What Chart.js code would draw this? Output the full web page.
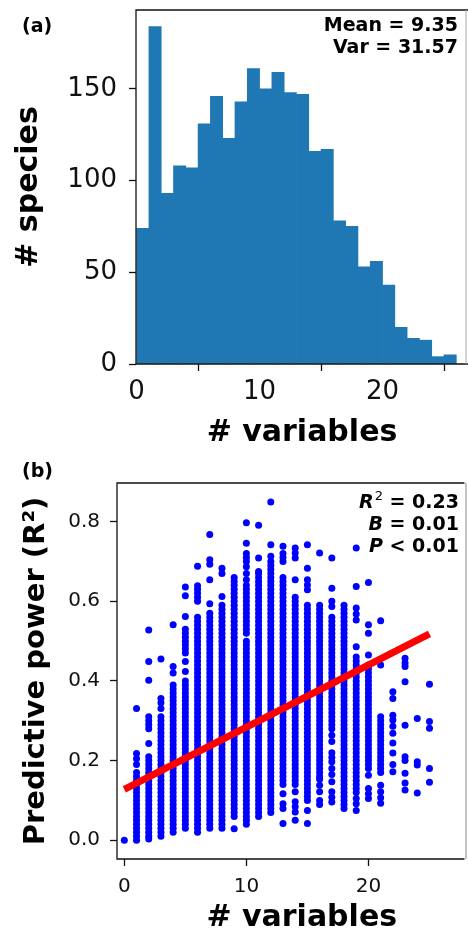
<!DOCTYPE html>
<html>
<head>
<meta charset="utf-8">
<script src="https://cdn.jsdelivr.net/npm/chart.js@4.4.1/dist/chart.umd.min.js"></script>
<style>
  html, body { margin: 0; padding: 0; background: #fff; width: 468px; height: 936px; overflow: hidden; }
  #wrap { position: relative; width: 468px; height: 936px; font-family: 'DejaVu Sans', sans-serif; color: #000; }
  canvas { position: absolute; left: 0; }
  #ca { top: 0; }
  #cb { top: 450px; }
  .txt { position: absolute; font-weight: bold; white-space: nowrap; }
  .ann { text-align: right; font-size: 19px; }
  .ann i { font-style: italic; }
  .ann sup { font-size: 13px; font-weight: normal; line-height: 0; vertical-align: baseline; position: relative; top: -8px; margin-left: 1px; }
</style>
</head>
<body>
<div id="wrap">
  <canvas id="ca" width="468" height="451" style="width:468px;height:451px"></canvas>
  <canvas id="cb" width="468" height="486" style="width:468px;height:486px"></canvas>
  <div class="txt" style="left:22px;top:14px;font-size:19px;line-height:22px;">(a)</div>
  <div class="txt ann" style="right:10px;top:14px;line-height:21.5px;">Mean = 9.35<br>Var = 31.57</div>
  <div class="txt" style="left:22px;top:459px;font-size:19px;line-height:22px;">(b)</div>
  <div class="txt ann" style="right:9px;top:490px;line-height:22px;"><i>R</i><sup>2</sup> = 0.23<br><i>B</i> = 0.01<br><i>P</i> &lt; 0.01</div>
</div>
<script>
// ---------- Panel (a): histogram ----------
const binStart = [0,1,2,3,4,5,6,7,8,9,10,11,12,13,14,15,16,17,18,19,20,21,22,23,24,25];
const speciesCount = [74,184,93,108,107,131,146,123,143,161,150,159,148,147,116,117,78,75,53,56,43,20,14,13,4,5];
const xTicksA = [0,10,20];
const yTicksA = [0,50,100,150];

// ---------- Panel (b): predictive power (R^2) of each species' model, by number of variables ----------
const nVariables = [0,1,2,3,4,5,6,7,8,9,10,11,12,13,14,15,16,17,18,19,20,21,22,23,24,25];
const p0 = [0.0];
const p1 = [0.331,0.218,0.205,0.19,0.17,0.16,0.15,0.14,0.13,0.12,0.11,0.1,0.09,0.08,0.07,0.06,0.05,0.04,0.03,0.02,0.01,0.0];
const p2 = [0.528,0.449,0.402,0.31,0.3,0.29,0.28,0.243,0.21,0.2,0.19,0.18,0.17,0.16,0.15,0.14,0.13,0.12,0.11,0.1,0.09,0.08,0.07,0.06,0.05,0.04,0.03,0.02,0.01,0.003];
const p3 = [0.455,0.356,0.345,0.331,0.31,0.3,0.29,0.28,0.27,0.26,0.25,0.24,0.23,0.22,0.21,0.2,0.19,0.18,0.17,0.16,0.15,0.14,0.13,0.12,0.11,0.1,0.09,0.08,0.07,0.06,0.05,0.04,0.03,0.02,0.01];
const p4 = [0.541,0.436,0.42,0.39,0.38,0.37,0.36,0.35,0.34,0.33,0.32,0.31,0.3,0.29,0.28,0.27,0.26,0.25,0.24,0.23,0.22,0.21,0.2,0.19,0.18,0.17,0.16,0.15,0.14,0.13,0.12,0.11,0.1,0.09,0.08,0.07,0.06,0.05,0.04,0.03,0.02];
const p5 = [0.636,0.614,0.562,0.53,0.52,0.51,0.5,0.49,0.48,0.47,0.449,0.424,0.4,0.39,0.38,0.37,0.36,0.35,0.34,0.33,0.32,0.31,0.3,0.29,0.28,0.27,0.26,0.25,0.24,0.23,0.22,0.21,0.2,0.19,0.18,0.17,0.16,0.15,0.14,0.13,0.12,0.11,0.1,0.09,0.08,0.07,0.06,0.05,0.04,0.03];
const p6 = [0.688,0.639,0.63,0.62,0.61,0.6,0.56,0.55,0.54,0.53,0.52,0.51,0.5,0.49,0.48,0.47,0.46,0.45,0.44,0.43,0.42,0.41,0.4,0.39,0.38,0.37,0.36,0.35,0.34,0.33,0.32,0.31,0.3,0.29,0.28,0.27,0.26,0.25,0.24,0.23,0.22,0.21,0.2,0.19,0.18,0.17,0.16,0.15,0.14,0.13,0.12,0.11,0.1,0.09,0.08,0.07,0.06,0.05,0.04,0.03,0.02];
const p7 = [0.768,0.704,0.693,0.654,0.594,0.57,0.56,0.55,0.54,0.53,0.52,0.51,0.5,0.49,0.48,0.47,0.46,0.45,0.44,0.43,0.42,0.41,0.4,0.39,0.38,0.37,0.36,0.35,0.34,0.33,0.32,0.31,0.3,0.29,0.28,0.27,0.26,0.25,0.24,0.23,0.22,0.21,0.2,0.19,0.18,0.17,0.16,0.15,0.14,0.13,0.12,0.11,0.1,0.09,0.08,0.07,0.06,0.05,0.04,0.03];
const p8 = [0.683,0.67,0.612,0.59,0.58,0.57,0.56,0.55,0.54,0.53,0.52,0.51,0.5,0.49,0.48,0.47,0.46,0.45,0.44,0.43,0.42,0.41,0.4,0.39,0.38,0.37,0.36,0.35,0.34,0.33,0.32,0.31,0.3,0.29,0.28,0.27,0.26,0.25,0.24,0.23,0.22,0.21,0.2,0.19,0.18,0.17,0.16,0.15,0.14,0.13,0.12,0.11,0.1,0.09,0.08,0.07,0.06,0.05,0.04,0.03];
const p9 = [0.66,0.65,0.64,0.63,0.62,0.61,0.6,0.59,0.58,0.57,0.56,0.55,0.54,0.53,0.52,0.51,0.5,0.49,0.48,0.47,0.46,0.45,0.44,0.43,0.42,0.41,0.4,0.39,0.38,0.37,0.36,0.35,0.34,0.33,0.32,0.31,0.3,0.29,0.28,0.27,0.26,0.25,0.24,0.23,0.22,0.21,0.2,0.19,0.18,0.17,0.16,0.15,0.14,0.13,0.12,0.11,0.1,0.09,0.08,0.07,0.06,0.029];
const p10 = [0.797,0.746,0.72,0.71,0.7,0.687,0.67,0.654,0.64,0.63,0.62,0.61,0.6,0.59,0.58,0.57,0.56,0.55,0.54,0.53,0.52,0.5,0.49,0.48,0.47,0.46,0.45,0.44,0.43,0.42,0.41,0.4,0.39,0.38,0.37,0.36,0.35,0.34,0.33,0.32,0.31,0.3,0.29,0.28,0.27,0.26,0.25,0.24,0.23,0.22,0.21,0.2,0.19,0.18,0.17,0.16,0.15,0.14,0.13,0.12,0.11,0.1,0.09,0.08,0.07,0.06,0.05,0.04];
const p11 = [0.791,0.709,0.675,0.67,0.66,0.65,0.64,0.63,0.62,0.61,0.6,0.59,0.58,0.57,0.56,0.55,0.54,0.53,0.52,0.51,0.5,0.49,0.48,0.47,0.46,0.45,0.44,0.43,0.42,0.41,0.4,0.39,0.38,0.37,0.36,0.35,0.34,0.33,0.32,0.31,0.3,0.29,0.28,0.27,0.26,0.25,0.24,0.23,0.22,0.21,0.2,0.19,0.18,0.17,0.16,0.15,0.14,0.13,0.12,0.11,0.1,0.09,0.08,0.07,0.06];
const p12 = [0.849,0.742,0.713,0.7,0.69,0.68,0.67,0.66,0.65,0.64,0.63,0.62,0.61,0.6,0.59,0.58,0.57,0.56,0.55,0.54,0.53,0.52,0.51,0.5,0.49,0.48,0.47,0.46,0.45,0.44,0.43,0.42,0.41,0.4,0.39,0.38,0.37,0.36,0.35,0.34,0.33,0.32,0.31,0.3,0.29,0.28,0.27,0.26,0.25,0.24,0.23,0.22,0.21,0.2,0.19,0.18,0.17,0.16,0.15,0.14,0.13,0.12,0.11,0.1,0.09,0.08,0.07];
const p13 = [0.738,0.72,0.71,0.7,0.66,0.65,0.64,0.63,0.62,0.61,0.6,0.59,0.58,0.57,0.56,0.55,0.54,0.53,0.52,0.51,0.5,0.49,0.48,0.47,0.46,0.45,0.44,0.43,0.42,0.41,0.4,0.39,0.38,0.37,0.36,0.35,0.34,0.33,0.32,0.31,0.3,0.29,0.28,0.27,0.26,0.25,0.24,0.23,0.22,0.21,0.2,0.19,0.18,0.17,0.16,0.15,0.14,0.117,0.092,0.08,0.042];
const p14 = [0.734,0.721,0.709,0.654,0.61,0.6,0.59,0.58,0.57,0.56,0.55,0.54,0.53,0.52,0.51,0.5,0.49,0.48,0.47,0.46,0.45,0.44,0.43,0.42,0.41,0.4,0.39,0.38,0.37,0.36,0.35,0.34,0.33,0.32,0.31,0.3,0.29,0.28,0.27,0.26,0.25,0.24,0.23,0.22,0.21,0.2,0.19,0.18,0.17,0.16,0.15,0.14,0.122,0.097,0.084,0.071,0.05];
const p15 = [0.742,0.683,0.654,0.641,0.629,0.59,0.58,0.57,0.56,0.55,0.54,0.53,0.52,0.51,0.5,0.49,0.48,0.47,0.46,0.45,0.44,0.43,0.42,0.41,0.4,0.39,0.38,0.37,0.36,0.35,0.34,0.33,0.32,0.31,0.3,0.29,0.28,0.27,0.26,0.25,0.24,0.23,0.22,0.21,0.2,0.19,0.18,0.17,0.16,0.15,0.14,0.13,0.12,0.11,0.1,0.075,0.042];
const p16 = [0.721,0.59,0.58,0.57,0.56,0.55,0.54,0.53,0.52,0.51,0.5,0.49,0.48,0.47,0.46,0.45,0.44,0.43,0.42,0.41,0.4,0.39,0.38,0.37,0.36,0.35,0.34,0.33,0.32,0.31,0.3,0.29,0.28,0.27,0.26,0.25,0.24,0.23,0.22,0.21,0.2,0.19,0.18,0.17,0.16,0.153,0.138,0.122,0.1,0.09];
const p17 = [0.709,0.633,0.6,0.587,0.56,0.55,0.54,0.53,0.52,0.51,0.5,0.49,0.48,0.47,0.46,0.45,0.44,0.43,0.42,0.41,0.4,0.39,0.38,0.37,0.36,0.35,0.34,0.33,0.32,0.31,0.3,0.29,0.28,0.264,0.248,0.22,0.208,0.197,0.18,0.165,0.147,0.122,0.108,0.096];
const p18 = [0.59,0.58,0.57,0.56,0.55,0.54,0.53,0.52,0.51,0.5,0.49,0.48,0.47,0.46,0.45,0.44,0.43,0.42,0.41,0.4,0.39,0.38,0.37,0.36,0.35,0.34,0.33,0.32,0.31,0.3,0.29,0.28,0.27,0.26,0.25,0.24,0.23,0.22,0.21,0.2,0.19,0.18,0.17,0.16,0.15,0.14,0.13,0.12,0.11,0.1,0.09,0.08];
const p19 = [0.734,0.637,0.583,0.568,0.553,0.486,0.46,0.45,0.44,0.43,0.42,0.41,0.4,0.39,0.38,0.37,0.36,0.35,0.34,0.33,0.32,0.31,0.3,0.29,0.28,0.27,0.26,0.25,0.24,0.23,0.22,0.21,0.2,0.19,0.18,0.17,0.16,0.15,0.14,0.13,0.12,0.105,0.092,0.075];
const p20 = [0.647,0.541,0.52,0.465,0.44,0.43,0.42,0.41,0.4,0.39,0.38,0.37,0.36,0.35,0.34,0.33,0.32,0.31,0.3,0.29,0.28,0.27,0.26,0.25,0.24,0.23,0.22,0.21,0.2,0.19,0.18,0.163,0.13,0.117,0.105];
const p21 = [0.551,0.44,0.31,0.3,0.29,0.28,0.27,0.26,0.25,0.24,0.23,0.22,0.21,0.2,0.19,0.18,0.17,0.138,0.122,0.107,0.093];
const p22 = [0.373,0.356,0.314,0.302,0.286,0.269,0.244,0.219,0.19,0.172];
const p23 = [0.457,0.445,0.436,0.398,0.289,0.21,0.2,0.168,0.144,0.126];
const p24 = [0.306,0.197,0.189,0.119];
const p25 = [0.392,0.298,0.281,0.18,0.146];
const fitX = [0, 25];
const fitY = [0.128, 0.518];
const xTicksB = [0,10,20];
const yTicksB = [0,0.2,0.4,0.6,0.8];
const yTickLabelsB = ['0.0','0.2','0.4','0.6','0.8'];

// ---------- shared ----------
Chart.defaults.font.family = "'DejaVu Sans', sans-serif";
Chart.defaults.color = '#111';

const framePlugin = {
  id: 'frame',
  afterDraw(chart, args, opts) {
    const { ctx, chartArea: a } = chart;
    ctx.save();
    ctx.strokeStyle = '#111';
    ctx.lineWidth = 1.3;
    ctx.beginPath();
    ctx.moveTo(a.right, a.top);
    ctx.lineTo(a.left, a.top);
    ctx.lineTo(a.left, a.bottom);
    ctx.lineTo(a.right, a.bottom);
    ctx.stroke();
    ctx.strokeStyle = opts.edgeColor || '#888';
    ctx.lineWidth = 1;
    ctx.beginPath();
    ctx.moveTo(opts.edgeX, a.top);
    ctx.lineTo(opts.edgeX, a.bottom);
    ctx.stroke();
    ctx.restore();
  }
};

// centres the x-axis title of panel (b) as in the original (its axes box extended past the crop)
const titleShiftPlugin = {
  id: 'titleShift',
  afterLayout(chart, args, opts) {
    chart.scales.x.right += opts.extra;
  }
};

const tickGrid = { display: true, drawOnChartArea: false, drawTicks: true, tickLength: 7, tickWidth: 1.3, tickColor: '#111', color: '#111' };

// ---------- Chart (a) ----------
new Chart(document.getElementById('ca'), {
  type: 'bar',
  data: {
    datasets: [{
      data: speciesCount.map((c, i) => ({ x: binStart[i] + 0.5, y: c })),
      backgroundColor: '#1f77b4',
      borderWidth: 0,
      barPercentage: 1.0,
      categoryPercentage: 1.0
    }]
  },
  options: {
    responsive: false, animation: false, devicePixelRatio: 1, events: [],
    layout: { padding: { top: 10, left: 0, right: 0, bottom: 0 } },
    plugins: { legend: { display: false }, tooltip: { enabled: false }, frame: { edgeX: 466, edgeColor: '#aaa' } },
    scales: {
      x: {
        type: 'linear', min: -0.05, max: 26.95, offset: false,
        grid: tickGrid, border: { display: false },
        afterBuildTicks: s => { s.ticks = xTicksA.map(v => ({ value: v })); },
        afterFit: s => { s.height = 87; s.paddingLeft = 0; s.paddingRight = 0; },
        ticks: { font: { size: 26 }, padding: 6, color: '#111', maxRotation: 0 },
        title: { display: true, text: '# variables', font: { size: 30, weight: 'bold' }, color: '#000', padding: { top: 0, bottom: 0 } }
      },
      y: {
        type: 'linear', min: 0, max: 193,
        grid: tickGrid, border: { display: false },
        afterBuildTicks: s => { s.ticks = yTicksA.map(v => ({ value: v })); },
        afterFit: s => { s.width = 136; s.paddingTop = 0; s.paddingBottom = 0; },
        ticks: { font: { size: 26 }, padding: 12, color: '#111' },
        title: { display: true, text: '# species', font: { size: 30, weight: 'bold' }, color: '#000', padding: { top: 11, bottom: 0 } }
      }
    }
  },
  plugins: [framePlugin]
});

// ---------- Chart (b) ----------
const powerCols = [p0,p1,p2,p3,p4,p5,p6,p7,p8,p9,p10,p11,p12,p13,p14,p15,p16,p17,p18,p19,p20,p21,p22,p23,p24,p25];
const scatterPts = [];
powerCols.forEach((col, i) => col.forEach(v => scatterPts.push({ x: nVariables[i], y: v })));

new Chart(document.getElementById('cb'), {
  type: 'scatter',
  data: {
    datasets: [
      {
        type: 'line',
        data: fitX.map((x, i) => ({ x, y: fitY[i] })),
        borderColor: '#ff0000', borderWidth: 7, borderCapStyle: 'butt',
        pointRadius: 0, fill: false, tension: 0
      },
      {
        data: scatterPts,
        backgroundColor: '#0000ff', borderWidth: 0,
        pointRadius: 3.5, pointHoverRadius: 3.5
      }
    ]
  },
  options: {
    responsive: false, animation: false, devicePixelRatio: 1, events: [],
    layout: { padding: { top: 33, left: 0, right: 0, bottom: 0 } },
    plugins: { legend: { display: false }, tooltip: { enabled: false }, frame: { edgeX: 466, edgeColor: '#888' }, titleShift: { extra: 22 } },
    scales: {
      x: {
        type: 'linear', min: -0.6, max: 27.87,
        grid: tickGrid, border: { display: false },
        afterBuildTicks: s => { s.ticks = xTicksB.map(v => ({ value: v })); },
        afterFit: s => { s.height = 77; s.paddingLeft = 0; s.paddingRight = 0; },
        ticks: { font: { size: 20 }, padding: 9, color: '#111', maxRotation: 0 },
        title: { display: true, text: '# variables', font: { size: 30, weight: 'bold' }, color: '#000', padding: { top: 0, bottom: 0 } }
      },
      y: {
        type: 'linear', min: -0.047, max: 0.897,
        grid: tickGrid, border: { display: false },
        afterBuildTicks: s => { s.ticks = yTicksB.map(v => ({ value: v })); },
        afterFit: s => { s.width = 117; s.paddingTop = 0; s.paddingBottom = 0; },
        ticks: { font: { size: 20 }, padding: 10, color: '#111', callback: (v, i) => yTickLabelsB[i] },
        title: { display: true, text: 'Predictive power (R²)', font: { size: 29, weight: 'bold' }, color: '#000', padding: { top: 19, bottom: 0 } }
      }
    }
  },
  plugins: [framePlugin, titleShiftPlugin]
});
</script>
</body>
</html>
